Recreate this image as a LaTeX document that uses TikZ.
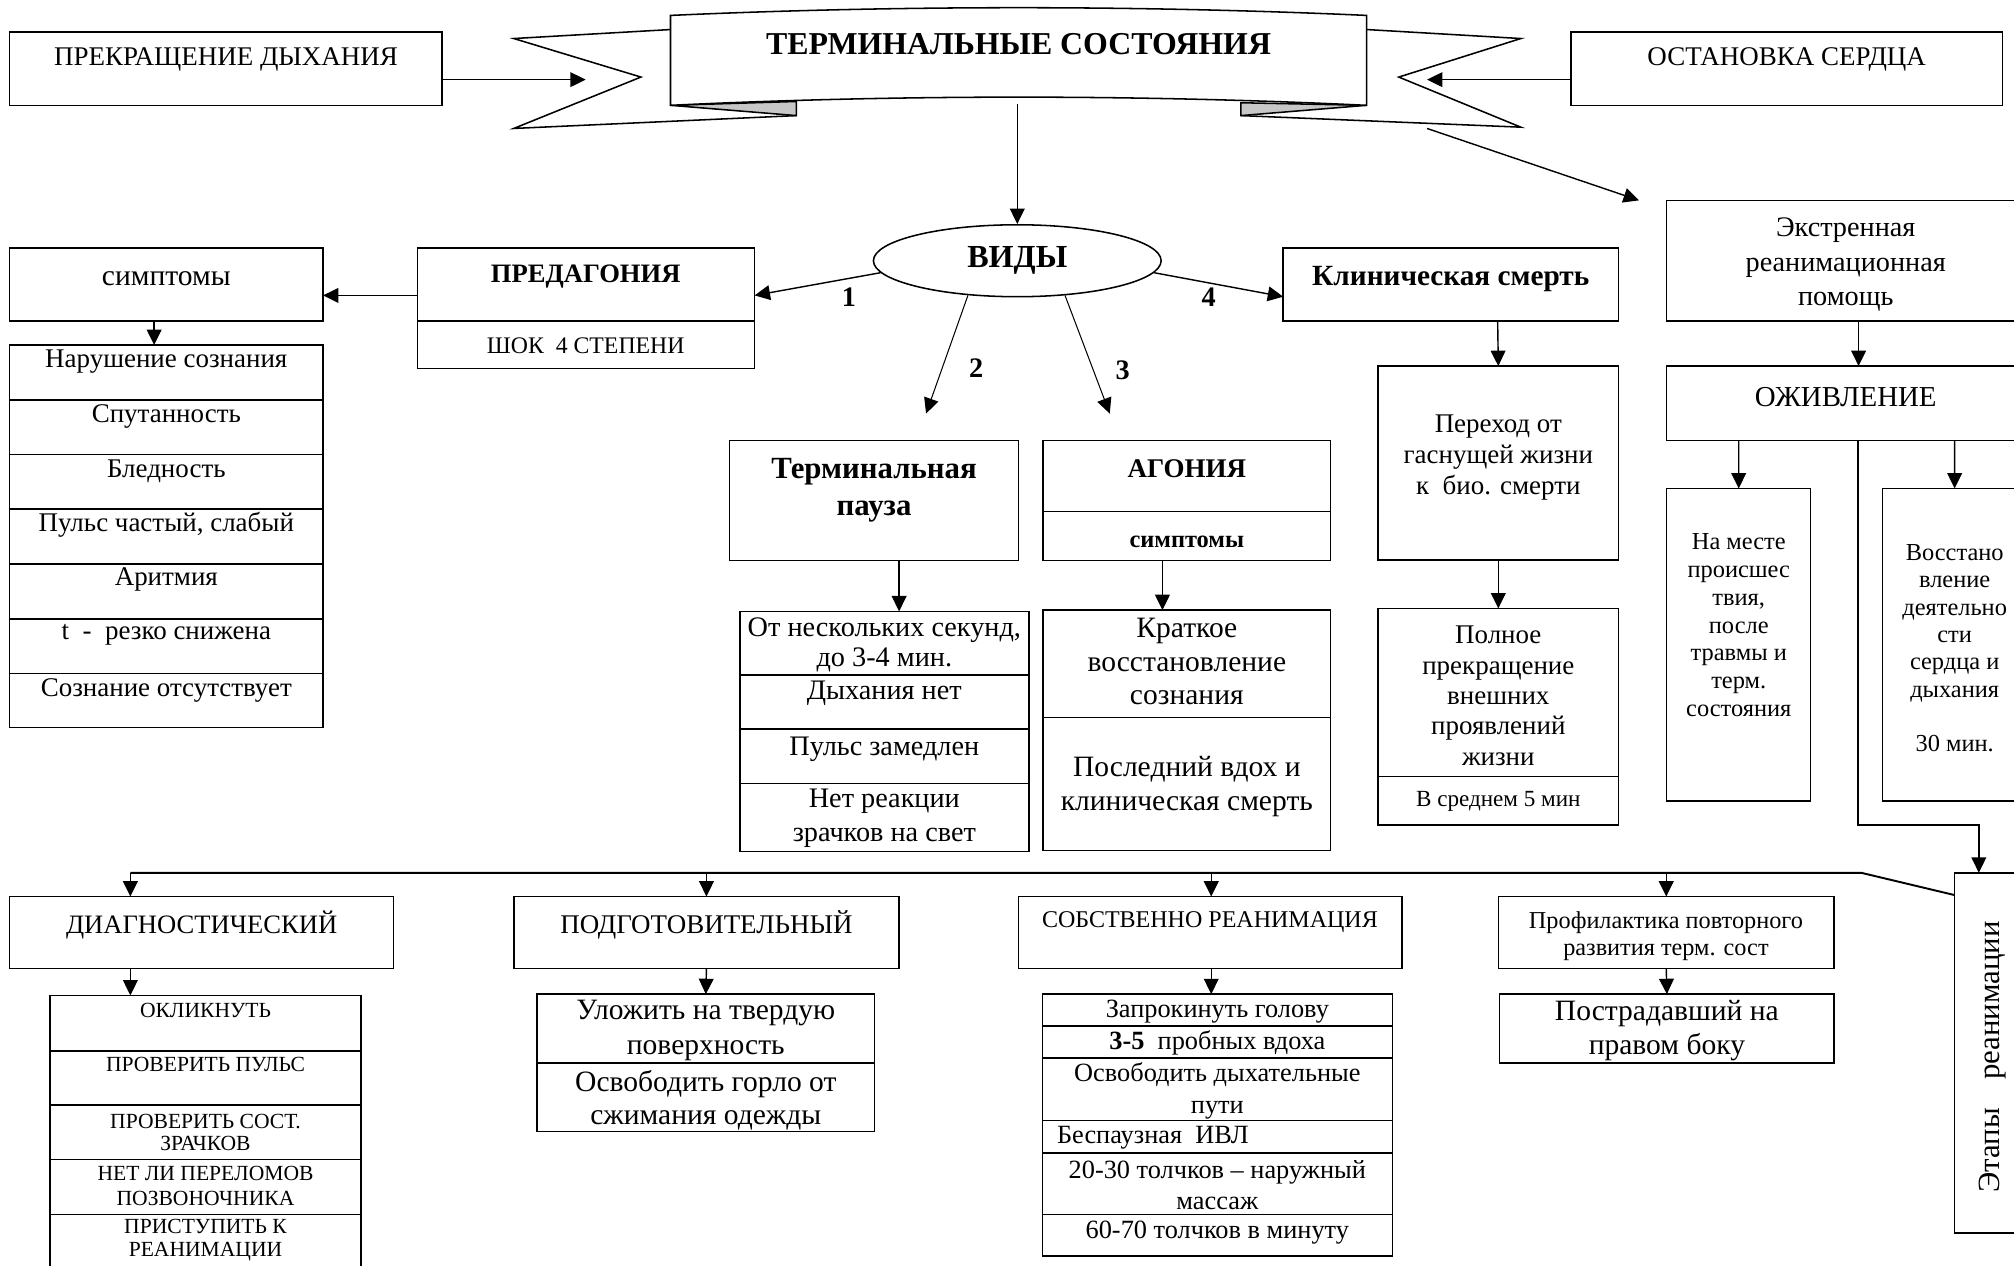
\documentclass[tikz,border=0pt]{standalone}
\usepackage{fontspec}
\setmainfont{Liberation Serif}
\usetikzlibrary{arrows.meta,shapes.geometric}
\newcommand\fz[2]{\fontsize{#1pt}{#2pt}\selectfont}
\newcommand\bx[5]{\node[bx, minimum width={(#4)-(#2)}, minimum height={(#5)-(#3)}] (#1) at ({((#2)+(#4))/2},{((#3)+(#5))/2}) {};}
\tikzset{
  bx/.style={draw, line width=1.2pt, inner sep=0pt, outer sep=0pt},
  tx/.style={inner sep=0pt, outer sep=0pt, align=center},
  arr/.style={line width=1.1pt, -{Triangle[length=12pt,width=11.5pt]}},
  thinarr/.style={line width=0.8pt, -{Triangle[length=12pt,width=11.5pt]}},
  ribbon/.style={fill=white, draw, line width=1.2pt, line join=miter},
  fold/.style={fill=black!22, draw, line width=1.2pt, line join=miter},
  num/.style={inner sep=0pt, font=\fz{22}{26}\bfseries},
}
\begin{document}
\begin{tikzpicture}[x=1pt,y=-1pt]
\useasboundingbox (0,0) rectangle (1568,985);

% ---------- title banner ----------
\path[fill=white] (522,23) -- (400,30) -- (499,60) -- (400,100) -- (620,90) -- (620,79) -- (522,82) -- cycle;
\draw[line width=1.2pt, line join=miter] (522,23) -- (400,30) -- (499,60) -- (400,100) -- (620,90);
\draw[fold] (522,82) -- (620,79) -- (620,90) -- cycle;
\path[fill=white] (1064,23) -- (1184,30) -- (1089,60) -- (1184,99) -- (966,90) -- (966,80) -- (1064,82) -- cycle;
\draw[line width=1.2pt, line join=miter] (1064,23) -- (1184,30) -- (1089,60) -- (1184,99) -- (966,90);
\draw[fold] (1064,82) -- (966,80) -- (966,90) -- cycle;
\draw[ribbon] (522,12) .. controls (700,4) and (886,4) .. (1064,12) -- (1064,82) .. controls (886,73.5) and (700,73.5) .. (522,82) -- cycle;
\node[tx, font=\fz{24.8}{29}\bfseries] (title) at (793,34) {ТЕРМИНАЛЬНЫЕ СОСТОЯНИЯ};

\bx{prek}{7.5}{25}{344}{82}
\node[tx, font=\fz{21}{25}] (tprek) at (176,46) {ПРЕКРАЩЕНИЕ ДЫХАНИЯ};
\bx{ost}{1223}{25}{1559}{82}
\node[tx, font=\fz{21}{25}] (tost) at (1391,46) {ОСТАНОВКА СЕРДЦА};

\coordinate (aL) at (456,62);
\coordinate (aR) at (1111,62);
\draw[arr] (prek.east |- aL) -- (aL);
\draw[arr] (ost.west |- aR) -- (aR);

% ---------- ВИДЫ ----------
\node[draw, ellipse, line width=1.2pt, minimum width=224pt, minimum height=56pt, inner sep=0pt, font=\fz{25}{29}\bfseries] (vidy) at (792,203) {ВИДЫ};
\coordinate (bdown) at (792,81);
\draw[arr] (bdown) -- (vidy.north);

\coordinate (bs) at (1111,100);
\coordinate (ek) at (1276,156);
\draw[arr] (bs) -- (ek);

% ---------- ПРЕДАГОНИЯ / симптомы ----------
\bx{symp}{7.5}{193}{251.5}{250}
\node[tx, font=\fz{23}{27}] (tsymp) at (129.5,217) {симптомы};
\bx{predag}{325}{193}{587.5}{250}
\bx{shok}{325}{250}{587.5}{287}
\node[tx, font=\fz{20.7}{24}\bfseries] (tpredag) at (456,215) {ПРЕДАГОНИЯ};
\node[tx, font=\fz{18.5}{22}] (tshok) at (456,269) {ШОК\ \ 4 СТЕПЕНИ};
\draw[arr] ([yshift=-8.5pt]predag.west) -- ([yshift=-8.5pt]symp.east);

\bx{s1}{7.5}{268.6}{251.5}{311.4}
\bx{s2}{7.5}{311.4}{251.5}{353.7}
\bx{s3}{7.5}{353.7}{251.5}{396.3}
\bx{s4}{7.5}{396.3}{251.5}{439}
\bx{s5}{7.5}{439}{251.5}{481.9}
\bx{s6}{7.5}{481.9}{251.5}{524.2}
\bx{s7}{7.5}{524.2}{251.5}{566.3}
\draw[arr] ([xshift=-9.5pt]symp.south) -- ([xshift=-9.5pt]s1.north);
\node[tx, font=\fz{21}{25}] (ts1) at (129.5,281.5) {Нарушение сознания};
\node[tx, font=\fz{21}{25}] (ts2) at (129.5,324.4) {Спутанность};
\node[tx, font=\fz{21}{25}] (ts3) at (129.5,367) {Бледность};
\node[tx, font=\fz{21}{25}] (ts4) at (129.5,408.7) {Пульс частый, слабый};
\node[tx, font=\fz{21}{25}] (ts5) at (129.5,451.5) {Аритмия};
\node[tx, font=\fz{21}{25}] (ts6) at (129.5,494.4) {t\ \ -\ \ резко снижена};
\node[tx, font=\fz{21}{25}] (ts7) at (129.5,537.2) {Сознание отсутствует};

% ---------- Клиническая смерть ----------
\bx{klin}{999}{193}{1260}{250}
\node[tx, font=\fz{22.8}{26}\bfseries] (tklin) at (1129.5,217) {Клиническая смерть};

% ---------- arrows from ВИДЫ ----------
\coordinate (e2) at (721,322);
\coordinate (e3) at (864,322);
\draw[arr] (vidy.185) -- ([yshift=-8.5pt]predag.east);
\draw[thinarr] (vidy.215) -- (e2);
\draw[thinarr] (vidy.324) -- (e3);
\draw[arr] (vidy.355) -- ([yshift=-9.5pt]klin.west);
\node[num] (n1) at (661,231) {1};
\node[num] (n2) at (760,287) {2};
\node[num] (n3) at (874,288) {3};
\node[num] (n4) at (941,231) {4};

% ---------- Терминальная пауза ----------
\bx{tp}{568}{343}{793}{436.5}
\node[tx, font=\fz{24}{29}\bfseries] (ttp) at (680.5,381.5) {Терминальная\\пауза};
\bx{tl1}{576}{476}{801}{525.5}
\bx{tl2}{576}{525.5}{801}{567.6}
\bx{tl3}{576}{567.6}{801}{610}
\bx{tl4}{576}{610}{801}{663}
\draw[arr] ([xshift=19.5pt]tp.south) -- ([xshift=11.5pt]tl1.north);
\node[tx, font=\fz{22}{23.5}] (ttl1) at (688.5,502) {От нескольких секунд,\\до 3-4 мин.};
\node[tx, font=\fz{22}{26}] (ttl2) at (688.5,540) {Дыхания нет};
\node[tx, font=\fz{22}{26}] (ttl3) at (688.5,583) {Пульс замедлен};
\node[tx, font=\fz{22}{26}] (ttl4) at (688.5,637) {Нет реакции\\зрачков на свет};

% ---------- АГОНИЯ ----------
\bx{ag}{812}{343}{1036}{398.4}
\bx{agsym}{812}{398.4}{1036}{436.5}
\node[tx, font=\fz{21}{25}\bfseries] (tag) at (924,365) {АГОНИЯ};
\node[tx, font=\fz{19}{23}\bfseries] (tagsym) at (924,422) {симптомы};
\bx{al1}{812}{475}{1036}{558.5}
\bx{al2}{812}{558.5}{1036}{662}
\draw[arr] ([xshift=-19pt]agsym.south) -- ([xshift=-19pt]al1.north);
\node[tx, font=\fz{23}{26}] (tal1) at (924,515) {Краткое\\восстановление\\сознания};
\node[tx, font=\fz{23}{26}] (tal2) at (924,612.5) {Последний вдох и\\клиническая смерть};

% ---------- Переход / Полное ----------
\bx{per}{1073}{285}{1260}{436}
\draw[arr] ([xshift=36.5pt]klin.south) -- (per.north);
\node[tx, font=\fz{21}{24}] (tper) at (1166.5,356) {Переход от\\гаснущей жизни\\к\ \ био. смерти};
\bx{pol}{1073}{473.7}{1260}{604.7}
\bx{pol2}{1073}{604.7}{1260}{642.4}
\draw[arr] (per.south) -- (pol.north);
\node[tx, font=\fz{21}{23.6}] (tpol) at (1166.5,541.8) {Полное\\прекращение\\внешних\\проявлений\\жизни};
\node[tx, font=\fz{18}{22}] (tpol2) at (1166.5,624) {В среднем 5 мин};

% ---------- Экстренная помощь ----------
\bx{ekst}{1297.5}{156}{1577}{250}
\node[tx, font=\fz{22}{26.5}] (tekst) at (1437,206) {Экстренная\\реанимационная\\помощь};
\bx{ozh}{1297.5}{285}{1577}{343}
\node[tx, font=\fz{22.5}{26}] (tozh) at (1437,309) {ОЖИВЛЕНИЕ};
\draw[arr] ([xshift=9.75pt]ekst.south) -- ([xshift=9.75pt]ozh.north);
\bx{nam}{1297.6}{380.3}{1409.7}{623.4}
\bx{vos}{1465.5}{380.3}{1578}{623.4}
\draw[arr] ([xshift=-83.55pt]ozh.south) -- (nam.north);
\draw[arr] ([xshift=84.55pt]ozh.south) -- (vos.north);
\node[tx, font=\fz{19}{21.6}] (tnam) at (1353.7,486.7) {На месте\\происшес\\твия,\\после\\травмы и\\терм.\\состояния};
\node[tx, font=\fz{19}{21.3}] (tvos) at (1521.8,504.8) {Восстано\\вление\\деятельно\\сти\\сердца и\\дыхания\\[21.3pt]30 мин.};

% ---------- Этапы реанимации ----------
\bx{etap}{1521.5}{679.5}{1580}{959.8}
\node[tx, rotate=90, font=\fz{24}{28}] (tetap) at (1551,823) {Этапы\hspace{22pt}реанимации};
\coordinate (oz1) at ([xshift=9.35pt]ozh.south);
\coordinate (oz2) at (1446.6,642.4);
\coordinate (oz3) at (1540.6,642.4);
\draw[arr] (oz1) -- (oz2) -- (oz3) -- (oz3 |- etap.north);

% ---------- bottom row ----------
\bx{diag}{7.5}{698}{306.5}{754}
\bx{podg}{400}{698}{700}{754}
\bx{sobst}{793}{698}{1091.5}{754}
\bx{prof}{1166.5}{698}{1428}{754}
\node[tx, font=\fz{20.7}{24}] (tdiag) at (157,720) {ДИАГНОСТИЧЕСКИЙ};
\node[tx, font=\fz{21}{24}] (tpodg) at (550,720) {ПОДГОТОВИТЕЛЬНЫЙ};
\node[tx, font=\fz{18.7}{22}] (tsobst) at (942,717.6) {СОБСТВЕННО РЕАНИМАЦИЯ};
\node[tx, font=\fz{18.9}{21.3}] (tprof) at (1297,729) {Профилактика повторного\\развития терм. сост};

\coordinate (bl) at (101.5,679.5);
\coordinate (bm) at (1449,679.5);
\draw[line width=1.5pt] (bl) -- (bm) -- ([yshift=-17.3pt]etap.north west);
\coordinate (xd) at ([xshift=-55.5pt]diag.north);
\coordinate (xs) at ([xshift=0.75pt]sobst.north);
\draw[arr] (bl) -- (xd);
\draw[arr] (podg.north |- bl) -- (podg.north);
\draw[arr] (xs |- bl) -- (xs);
\draw[arr] (prof.north |- bl) -- (prof.north);

% diagnostic list
\bx{dl1}{39}{775}{281}{818.3}
\bx{dl2}{39}{818.3}{281}{860.4}
\bx{dl3}{39}{860.4}{281}{902.7}
\bx{dl4}{39}{902.7}{281}{945.5}
\bx{dl5}{39}{945.5}{281}{992}
\draw[arr] ([xshift=-55.5pt]diag.south) -- ([xshift=-58.5pt]dl1.north);
\node[tx, font=\fz{16.8}{17.5}] (tdl1) at (160,786.4) {ОКЛИКНУТЬ};
\node[tx, font=\fz{16.8}{17.5}] (tdl2) at (160,828.7) {ПРОВЕРИТЬ ПУЛЬС};
\node[tx, font=\fz{16.8}{17.5}] (tdl3) at (160,881.6) {ПРОВЕРИТЬ СОСТ.\\ЗРАЧКОВ};
\node[tx, font=\fz{16.8}{19.5}] (tdl4) at (160,923.2) {НЕТ ЛИ ПЕРЕЛОМОВ\\ПОЗВОНОЧНИКА};
\node[tx, font=\fz{16.8}{18}] (tdl5) at (160,965.5) {ПРИСТУПИТЬ К\\РЕАНИМАЦИИ};

% preparatory list
\bx{ul1}{418}{774}{681}{827.4}
\bx{ul2}{418}{827.4}{681}{881}
\draw[arr] (podg.south) -- (ul1.north);
\node[tx, font=\fz{23}{27}] (tul1) at (549.5,802.5) {Уложить на твердую\\поверхность};
\node[tx, font=\fz{23}{26}] (tul2) at (549.5,856.5) {Освободить горло от\\сжимания одежды};

% resuscitation list
\bx{sl1}{811.5}{774}{1084}{798.6}
\bx{sl2}{811.5}{798.6}{1084}{823.5}
\bx{sl3}{811.5}{823.5}{1084}{872.5}
\bx{sl4}{811.5}{872.5}{1084}{897.5}
\bx{sl5}{811.5}{897.5}{1084}{945.5}
\bx{sl6}{811.5}{945.5}{1084}{978}
\draw[arr] (xs |- sobst.south) -- (xs |- sl1.north);
\node[tx, font=\fz{20.5}{24}] (tsl1) at (947.75,787.7) {Запрокинуть голову};
\node[tx, font=\fz{20.5}{24}] (tsl2) at (947.75,811.8) {\textbf{3-5}\ \ пробных вдоха};
\node[tx, font=\fz{20.5}{24.6}] (tsl3) at (947.75,849.3) {Освободить дыхательные\\пути};
\node[tx, font=\fz{20.5}{24}, anchor=west] (tsl4) at (823,885.5) {Беспаузная\ \ ИВЛ};
\node[tx, font=\fz{20.5}{24}] (tsl5) at (947.75,922.4) {20-30 толчков – наружный\\массаж};
\node[tx, font=\fz{20.5}{24}] (tsl6) at (947.75,960) {60-70 толчков в минуту};

% prophylaxis
\bx{postr}{1167.5}{774}{1428}{827.4}
\draw[arr] (prof.south) -- (postr.north);
\node[tx, font=\fz{23}{26.6}] (tpostr) at (1297.75,802.3) {Пострадавший на\\правом боку};
\end{tikzpicture}
\end{document}
